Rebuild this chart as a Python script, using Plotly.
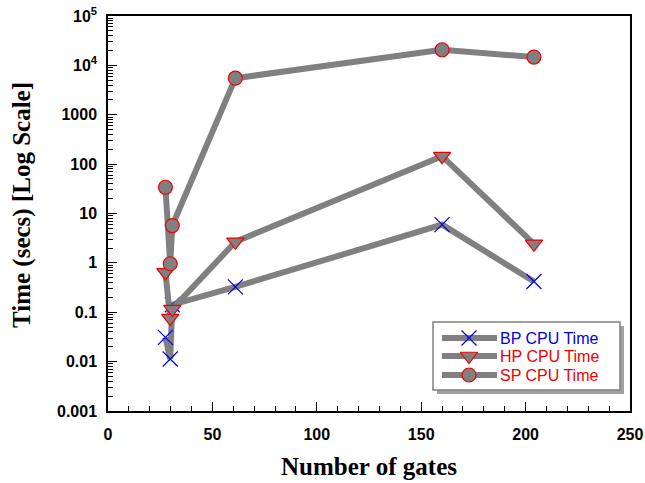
import plotly.graph_objects as go

gates = [27.5, 29.8, 30.8, 61, 160, 204]
bp_time = [0.031, 0.0113, 0.142, 0.327, 5.95, 0.42]
hp_time = [0.64, 0.076, 0.116, 2.67, 145, 2.43]
sp_time = [34, 0.96, 5.7, 5500, 20700, 14750]

series_names = ["BP CPU Time", "HP CPU Time", "SP CPU Time"]
series_text_colors = ["#0000ee", "#ee0000", "#ee0000"]

y_tickvals = [0.001, 0.01, 0.1, 1, 10, 100, 1000, 1e4, 1e5]
y_ticktext = ["0.001", "0.01", "0.1", "1", "10", "100", "1000", "10<sup>4</sup>", "10<sup>5</sup>"]

minor_vals = [m * 10 ** k for k in range(-3, 5) for m in range(2, 10)]

LINE = "#808080"
BLUE = "#0000ee"
RED = "#ee0000"

marker_styles = [
    dict(symbol="x-thin", size=15, color=BLUE, line=dict(color=BLUE, width=1.2)),
    dict(symbol="triangle-down", size=15, color=LINE, line=dict(color=RED, width=1.2)),
    dict(symbol="circle", size=14, color=LINE, line=dict(color=RED, width=1.2)),
]

fig = go.Figure()
for name, ys, ms in zip(series_names, [bp_time, hp_time, sp_time], marker_styles):
    fig.add_trace(go.Scatter(
        x=gates, y=ys, mode="lines+markers", name=name,
        line=dict(color=LINE, width=6), marker=ms, showlegend=False,
    ))

L, R, T, B = 108, 15, 16, 72
W, H = 645, 483
pw, ph = W - L - R, H - T - B

def px_x(v):
    return (v - L) / pw

def px_y(v):
    return (H - B - v) / ph

# manual legend (box + shadow + samples + labels)
shapes = [
    dict(type="rect", xref="paper", yref="paper",
         x0=px_x(437), x1=px_x(624), y0=px_y(394), y1=px_y(326),
         fillcolor="#a0a0a0", line=dict(width=0), layer="below"),
    dict(type="rect", xref="paper", yref="paper",
         x0=px_x(433), x1=px_x(620), y0=px_y(390), y1=px_y(322),
         fillcolor="white", line=dict(color="#808080", width=1.5), layer="below"),
]
rows_px = [338, 356, 375]
annotations = []
for i, (name, col, ms) in enumerate(zip(series_names, series_text_colors, marker_styles)):
    yy = px_y(rows_px[i])
    fig.add_trace(go.Scatter(
        x=[px_x(442), px_x(497)], y=[yy, yy],
        xaxis="x2", yaxis="y2", mode="lines",
        line=dict(color=LINE, width=6),
        showlegend=False, hoverinfo="skip",
    ))
    fig.add_trace(go.Scatter(
        x=[px_x(469)], y=[yy],
        xaxis="x2", yaxis="y2", mode="markers",
        marker=ms, showlegend=False, hoverinfo="skip",
    ))
    annotations.append(dict(
        xref="paper", yref="paper", x=px_x(498), y=yy, xanchor="left", yanchor="middle",
        text=name, showarrow=False,
        font=dict(family="Liberation Sans, Arial, sans-serif", size=16, color=col),
    ))

annotations.append(dict(
    xref="paper", yref="paper", x=px_x(22), y=px_y(205), xanchor="center", yanchor="middle",
    text="Time (secs) [Log Scale]", textangle=-90, showarrow=False,
    font=dict(family="Liberation Serif, Times New Roman, serif", size=25, color="black", weight="bold"),
))

fig.update_layout(
    width=W, height=H,
    margin=dict(l=L, r=R, t=T, b=B),
    paper_bgcolor="white", plot_bgcolor="white",
    showlegend=False,
    shapes=shapes,
    annotations=annotations,
    xaxis=dict(
        range=[0, 250], tickmode="linear", tick0=0, dtick=50,
        ticks="inside", ticklen=9, tickwidth=1, tickcolor="black",
        showline=True, linecolor="black", linewidth=1.5, mirror=True,
        showgrid=False, zeroline=False, automargin=False,
        minor=dict(dtick=10, ticks="inside", ticklen=5, tickcolor="black", showgrid=False),
        ticklabelstandoff=8,
        tickfont=dict(family="Liberation Sans, Arial, sans-serif", size=16, color="black", weight="bold"),
        title=dict(text="Number of gates", standoff=16,
                   font=dict(family="Liberation Serif, Times New Roman, serif", size=25, color="black", weight="bold")),
    ),
    yaxis=dict(
        type="log", range=[-3, 5],
        tickmode="array", tickvals=y_tickvals, ticktext=y_ticktext,
        ticks="inside", ticklen=9, tickwidth=1, tickcolor="black",
        showline=True, linecolor="black", linewidth=1.5, mirror=True,
        showgrid=False, zeroline=False, automargin=False,
        minor=dict(tickmode="array", tickvals=minor_vals, ticks="inside", ticklen=5, tickcolor="black", showgrid=False),
        ticklabelstandoff=6,
        tickfont=dict(family="Liberation Sans, Arial, sans-serif", size=16, color="black", weight="bold"),
    ),
    xaxis2=dict(domain=[0, 1], range=[0, 1], overlaying="x", visible=False, fixedrange=True),
    yaxis2=dict(domain=[0, 1], range=[0, 1], overlaying="y", visible=False, fixedrange=True),
)

fig.write_html("out.html")
